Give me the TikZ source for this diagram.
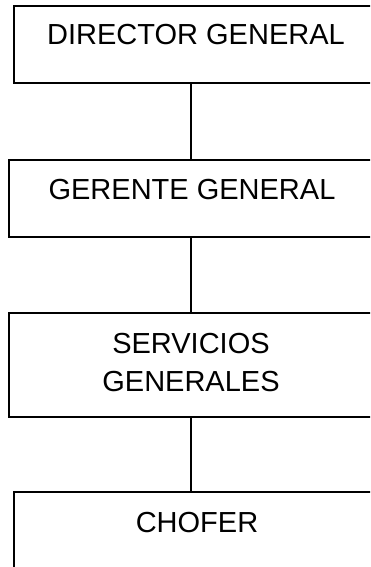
\documentclass[tikz,border=0pt]{standalone}
\usepackage{fontspec}
\setmainfont{Liberation Sans}
\usepackage{tikz}

\tikzset{
  cargo/.style={draw, line width=1.5pt, inner sep=0pt},
  rotulo/.style={inner sep=0pt, anchor=base, align=center, font=\fontsize{29}{38}\selectfont}
}

\begin{document}
\begin{tikzpicture}[x=1pt, y=1pt]
                \clip (0,0) rectangle (370,-567);
                \node [cargo, minimum width=360pt, minimum height=77pt] (director) at (194,-44.5) {};
                \node [cargo, minimum width=364pt, minimum height=77pt] (gerente) at (191,-198.5) {};
                \node [cargo, minimum width=364pt, minimum height=104pt] (servicios) at (191,-365) {};
                \node [cargo, minimum width=360pt, minimum height=120pt] (chofer) at (194,-552) {};
                \draw [line width=1.5pt] (gerente.north |- director.south) -- (gerente.north);
                \draw [line width=1.5pt] (gerente) -- (servicios);
                \draw [line width=1.5pt] (servicios.south) -- (chofer.north -| servicios.south);
                \node [rotulo] (director-txt) at (196,-45) {DIRECTOR GENERAL};
                \node [rotulo] (gerente-txt) at (192,-199) {GERENTE GENERAL};
                \node [rotulo] (servicios-txt) at (191,-391) {SERVICIOS\\GENERALES};
                \node [rotulo] (chofer-txt) at (197,-532) {CHOFER};
            \end{tikzpicture}
\end{document}
